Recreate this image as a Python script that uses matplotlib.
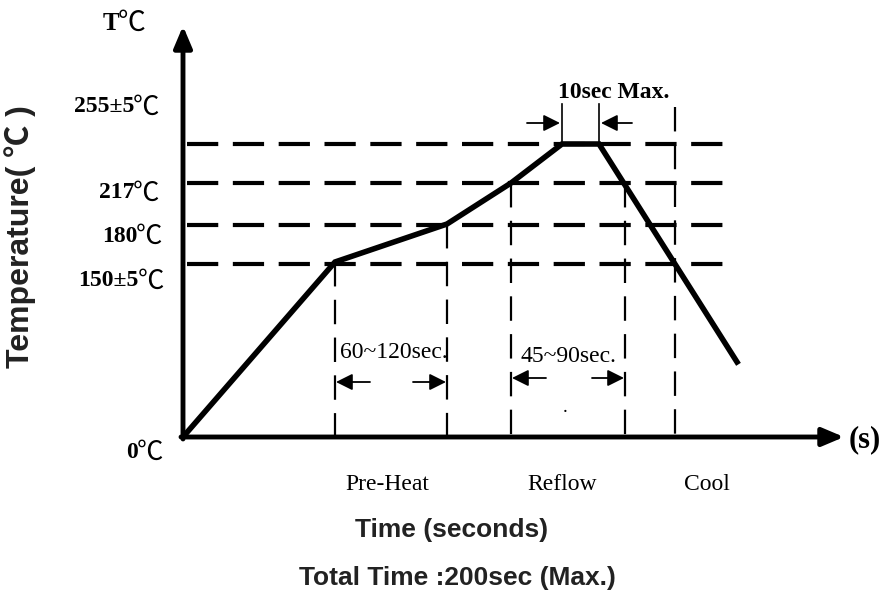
import matplotlib.pyplot as plt
from matplotlib.patches import FancyArrowPatch

# schematic coordinates (arbitrary units, origin at the axes corner)
profile_t = [0, 152, 264, 328, 379, 416, 554]
profile_T = [0, 175, 213, 254, 293, 293, 75]

level_y = [293, 254, 212, 173]
level_labels = ['255±5', '217', '180', '150±5']
level_label_pos = [(-49, 330), (-49, 244), (-46, 201), (-44, 156)]

vline_x = [152, 264, 328, 442, 492]
vline_top = [175, 213, 254, 254, 330]

peak_x = [379, 416]
peak_top = 333

span_labels = ['60~120sec.', '45~90sec.', '10sec Max.']
stage_labels = ['Pre-Heat', 'Reflow', 'Cool']
stage_x = [204, 379, 524]

serif = ['Liberation Serif', 'Noto Sans CJK SC']
sans = ['Liberation Sans', 'Noto Sans CJK SC']
cjk = ['Noto Sans CJK SC']

fig = plt.figure(figsize=(8.83, 5.92), dpi=100)
ax = fig.add_axes([0, 0, 1, 1])
ax.set_xlim(-183, 700)
ax.set_ylim(-155, 437)
ax.axis('off')

# horizontal temperature levels
for y in level_y:
    ax.plot([4, 544], [y, y], color='black', lw=3.0, dashes=(7.5, 3.5), solid_capstyle='butt')

# vertical stage boundaries
for x, top in zip(vline_x, vline_top):
    ax.plot([x, x], [top, 0], color='black', lw=1.6, dashes=(11, 6), solid_capstyle='butt')
for x in peak_x:
    ax.plot([x, x], [level_y[0], peak_top], color='black', lw=1.2)

# profile
ax.plot(profile_t, profile_T, color='black', lw=4.0, solid_joinstyle='miter')

# axes with arrows
ax.annotate('', xy=(0, 411), xytext=(0, -2),
            arrowprops=dict(arrowstyle='-|>,head_length=1.3,head_width=0.55', lw=3.5, color='black',
                            shrinkA=0, shrinkB=0))
ax.annotate('', xy=(661, 0), xytext=(-2, 0),
            arrowprops=dict(arrowstyle='-|>,head_length=1.3,head_width=0.55', lw=3.5, color='black',
                            shrinkA=0, shrinkB=0))

# small span arrows
span_arrows = [((187, 55), (153, 55)), ((230, 55), (263, 55)),
               ((363, 59), (329, 59)), ((409, 59), (441, 59)),
               ((344, 314), (377, 314)), ((449, 314), (418, 314))]
for start, end in span_arrows:
    ax.add_patch(FancyArrowPatch(start, end, arrowstyle='-|>,head_length=5,head_width=2.5',
                                 lw=1.3, color='black', shrinkA=0, shrinkB=0, mutation_scale=2))


def deg_label(x, y, num, size=17):
    ax.text(x, y, num, family=serif, weight='bold', fontsize=size, ha='right', va='center')
    ax.text(x - 1, y, '℃', family=cjk, fontsize=size + 2, ha='left', va='center')


# temperature labels
for lab, (x, y) in zip(level_labels, level_label_pos):
    deg_label(x, y, lab)
deg_label(-64, 414, 'T', 18)
deg_label(-45, -15, '0', 17)
ax.text(682, -3, '(s)', family=serif, weight='bold', fontsize=22, ha='center', va='center')

ax.text(211, 84, span_labels[0], family=serif, fontsize=17, ha='center', va='center')
ax.text(385, 80, span_labels[1], family=serif, fontsize=17, ha='center', va='center')
ax.text(431, 344, span_labels[2], family=serif, weight='bold', fontsize=17, ha='center', va='center')
ax.text(382, 30, '.', family=serif, fontsize=14, ha='center', va='center')

for lab, x in zip(stage_labels, stage_x):
    ax.text(x, -48, lab, family=serif, fontsize=17, ha='center', va='center')

ax.text(269, -93, 'Time (seconds)', family=sans, weight='bold', fontsize=19,
        ha='center', va='center', color='#222222')
ax.text(274, -141, 'Total Time :200sec (Max.)', family=sans, weight='bold', fontsize=19,
        ha='center', va='center', color='#222222')
ax.text(-163, 200, 'Temperature( ℃ )', family=sans, weight='bold', fontsize=23,
        rotation=90, ha='center', va='center', color='#222222')

fig.savefig('out.png', dpi=100)
